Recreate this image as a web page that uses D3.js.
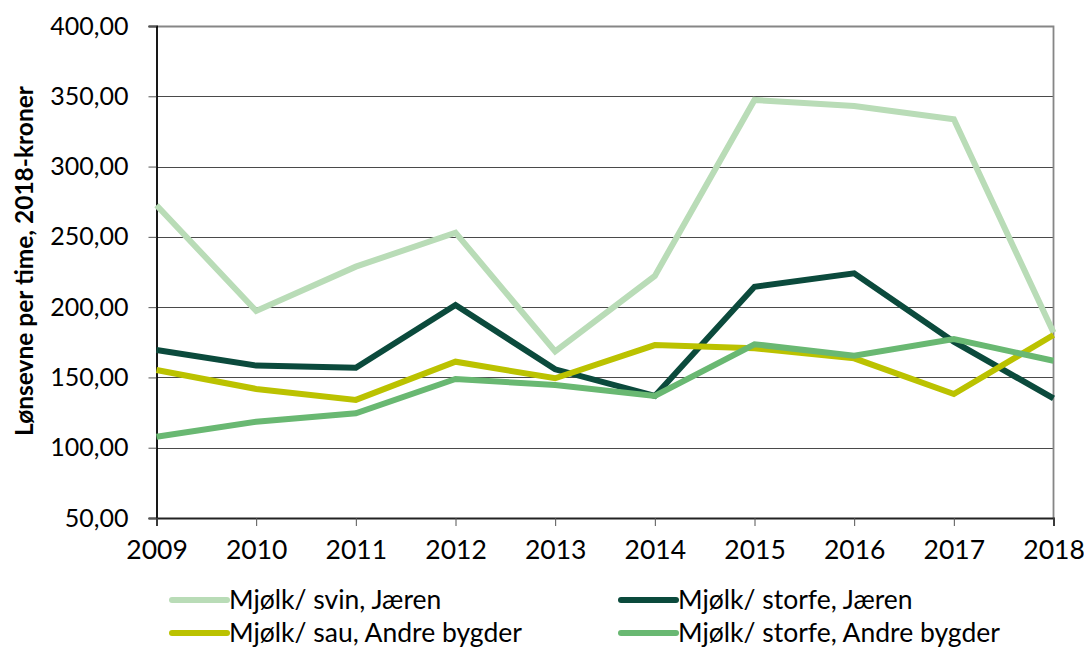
<!DOCTYPE html>
<html>
<head>
<meta charset="utf-8">
<script src="https://cdn.jsdelivr.net/npm/d3@7"></script>
<style>
  body { margin: 0; background: #fff; }
  text { font-family: Lato, "Open Sans", sans-serif; fill: #000; }
</style>
</head>
<body>
<div id="chart"></div>
<script>
// years on the x axis
let years = [2009, 2010, 2011, 2012, 2013, 2014, 2015, 2016, 2017, 2018];

// series (kroner per time)
let svinJaeren    = [272.5, 197.3, 228.8, 253.0, 168.5, 222.2, 347.4, 343.1, 333.6, 182.0];
let storfeJaeren  = [169.5, 158.4, 156.9, 201.5, 155.8, 136.8, 214.5, 224.1, 175.4, 135.1];
let sauAndre      = [155.3, 141.8, 134.0, 161.2, 149.4, 173.0, 170.7, 163.6, 138.2, 180.2];
let storfeAndre   = [107.8, 118.5, 124.5, 148.9, 144.6, 136.8, 173.6, 165.5, 177.3, 161.9];

let seriesNames = ['Mjølk/ svin, Jæren', 'Mjølk/ storfe, Jæren',
                   'Mjølk/ sau, Andre bygder', 'Mjølk/ storfe, Andre bygder'];
let seriesColors = ['#b9dcb7', '#0b4a3c', '#bbc200', '#69b872'];
let seriesValues = [svinJaeren, storfeJaeren, sauAndre, storfeAndre];

let yTicks = [50, 100, 150, 200, 250, 300, 350, 400];

//----------------------------------------
// SVG setup
let width = 1084,
    height = 650;

let svg = d3.select('#chart').append('svg')
    .attr('width', width)
    .attr('height', height);

let plotLeft = 156.5, plotRight = 1053.5, plotTop = 26, plotBottom = 518;

let x = d3.scaleLinear().domain([2009, 2018]).range([plotLeft, plotRight]);
let y = d3.scaleLinear().domain([50, 400]).range([plotBottom, plotTop]);

let fmt = d => d3.format('.2f')(d).replace('.', ',');

//----------------------------------------
// Gridlines
svg.append('g')
    .selectAll('line')
    .data(yTicks.filter(d => d > 50 && d < 400))
    .enter()
    .append('line')
    .attr('x1', plotLeft).attr('x2', plotRight)
    .attr('y1', d => Math.round(y(d)) + 0.5)
    .attr('y2', d => Math.round(y(d)) + 0.5)
    .style('stroke', '#4a4a4a')
    .style('stroke-width', 1);

// plot border top / right
svg.append('path')
    .attr('d', `M${plotLeft},${plotTop + 0.5}H${plotRight}V${plotBottom}`)
    .style('fill', 'none')
    .style('stroke', '#868686')
    .style('stroke-width', 1.8);

//----------------------------------------
// Axes
let yAxis = svg.append('g')
    .attr('transform', `translate(${plotLeft},0)`)
    .call(d3.axisLeft(y).tickValues(yTicks).tickFormat(fmt).tickSize(8).tickPadding(20));
yAxis.select('.domain').style('stroke', '#000').style('stroke-width', 1.8);
yAxis.selectAll('.tick line').style('stroke', '#555');
yAxis.selectAll('text').style('font-size', '25px');

let xAxis = svg.append('g')
    .attr('transform', `translate(0,${plotBottom})`)
    .call(d3.axisBottom(x).tickValues(years).tickFormat(d3.format('d')).tickSize(8).tickPadding(14));
xAxis.select('.domain').style('stroke', '#222').style('stroke-width', 2);
xAxis.selectAll('.tick line').style('stroke', '#555');
xAxis.selectAll('text').style('font-size', '26.5px');

svg.selectAll('.tick text').style('fill', '#000').style('font-family', 'Lato, sans-serif');

// y axis title
svg.append('text')
    .attr('transform', 'translate(33,261) rotate(-90)')
    .attr('text-anchor', 'middle')
    .style('font-size', '24.5px')
    .style('font-weight', 'bold')
    .text('Lønsevne per time, 2018-kroner');

//----------------------------------------
// Lines
let line = d3.line()
    .x((d, i) => x(years[i]))
    .y(d => y(d));

svg.selectAll('.series')
    .data(seriesValues)
    .enter()
    .append('path')
    .attr('class', 'series')
    .attr('d', line)
    .style('fill', 'none')
    .style('stroke', (d, i) => seriesColors[i])
    .style('stroke-width', 6)
    .style('stroke-linejoin', 'miter');

//----------------------------------------
// Legend
let legendPos = [[172, 600], [621, 600], [172, 633], [621, 633]];

let legend = svg.selectAll('.legend')
    .data(seriesNames)
    .enter()
    .append('g')
    .attr('class', 'legend')
    .attr('transform', (d, i) => `translate(${legendPos[i][0]},${legendPos[i][1]})`);

legend.append('line')
    .attr('x1', 0).attr('x2', 55)
    .style('stroke', (d, i) => seriesColors[i])
    .style('stroke-width', 6)
    .style('stroke-linecap', 'round');

legend.append('text')
    .attr('x', 57)
    .attr('dy', '0.34em')
    .style('font-size', '26.5px')
    .text(d => d);
</script>
</body>
</html>
